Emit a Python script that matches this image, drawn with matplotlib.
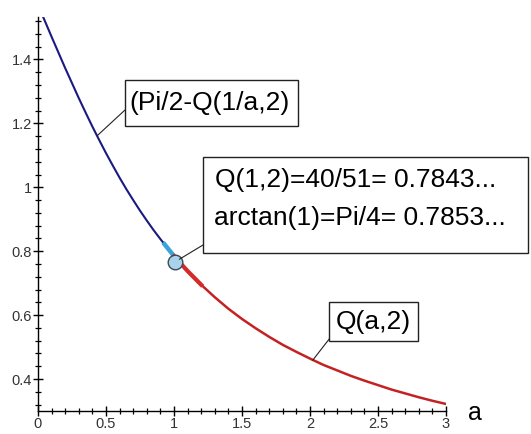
import matplotlib
matplotlib.use("Agg")
import matplotlib.pyplot as plt
from matplotlib.patches import Rectangle
from matplotlib.ticker import MultipleLocator

# values
blue_a = [0.0, 0.05, 0.1, 0.15, 0.2, 0.25, 0.3, 0.35, 0.4, 0.45, 0.5, 0.55, 0.6,
          0.65, 0.7, 0.75, 0.8, 0.85, 0.9, 0.93, 0.96, 1.0]
blue_v = [1.571, 1.521, 1.471, 1.422, 1.373, 1.326, 1.279, 1.234, 1.190, 1.148,
          1.107, 1.068, 1.030, 0.994, 0.960, 0.927, 0.896, 0.866, 0.838, 0.822,
          0.806, 0.785]
red_a = [1.0, 1.1, 1.2, 1.3, 1.4, 1.5, 1.6, 1.7, 1.8, 1.9, 2.0, 2.1, 2.2, 2.3,
         2.4, 2.5, 2.6, 2.7, 2.8, 2.9, 3.0]
red_v = [0.784, 0.738, 0.695, 0.656, 0.620, 0.588, 0.559, 0.532, 0.507, 0.485,
         0.464, 0.444, 0.427, 0.410, 0.395, 0.381, 0.367, 0.355, 0.343, 0.332,
         0.322]
point_a, point_v = 1.01, 0.765

label_blue = "(Pi/2-Q(1/a,2)"
label_red = "Q(a,2)"
label_point = ["Q(1,2)=40/51= 0.7843...", "arctan(1)=Pi/4= 0.7853..."]

W, H = 531, 434
plt.rcParams["font.family"] = ["Liberation Sans", "DejaVu Sans"]
fig = plt.figure(figsize=(W / 100, H / 100), dpi=100)
ax = fig.add_axes([38 / W, 1 - 411 / H, (446 - 38) / W, (411 - 17) / H])

ax.plot(blue_a, blue_v, color="#1a1a80", lw=1.5, solid_capstyle="butt", zorder=3)
ax.plot(red_a, red_v, color="#c42222", lw=1.8, zorder=3)
ax.plot(blue_a[-3:], blue_v[-3:], color="#3aa3dc", lw=3.2, zorder=4)
ax.plot(red_a[:3], red_v[:3], color="#d42a2a", lw=3.0, zorder=4)
ax.plot([point_a], [point_v], "o", ms=10.5, mfc="#a9d3ea", mec="#3b4a55", mew=1.0, zorder=5)

ax.set_xlim(0, 3)
ax.set_ylim(0.30, 1.533)
ax.xaxis.set_major_locator(MultipleLocator(0.5))
ax.xaxis.set_minor_locator(MultipleLocator(0.1))
ax.yaxis.set_major_locator(MultipleLocator(0.2))
ax.yaxis.set_minor_locator(MultipleLocator(0.04))
ax.set_xticks([0, 0.5, 1, 1.5, 2, 2.5, 3], ["0", "0.5", "1", "1.5", "2", "2.5", "3"])
ax.set_yticks([0.4, 0.6, 0.8, 1.0, 1.2, 1.4], ["0.4", "0.6", "0.8", "1", "1.2", "1.4"])
for s in ["top", "right"]:
    ax.spines[s].set_visible(False)
for s in ["left", "bottom"]:
    ax.spines[s].set_linewidth(1.0)
ax.tick_params(which="major", direction="inout", length=7, width=1.0,
               labelsize=10.5, labelcolor="#333333", pad=1)
ax.tick_params(which="minor", direction="inout", length=5, width=0.9)
ax.patch.set_alpha(0)

fig.text(475 / W, 1 - 413 / H, "a", fontsize=18, ha="center", va="center")


def box(x0, y0, x1, y1):
    fig.patches.append(Rectangle((x0 / W, 1 - y1 / H), (x1 - x0) / W, (y1 - y0) / H,
                                 transform=fig.transFigure, fill=True, fc="white",
                                 ec="#222222", lw=1.0, zorder=6))


def leader(xy, px, py):
    ax.annotate("", xy=xy, xycoords="data", xytext=(px, H - py),
                textcoords="figure pixels",
                arrowprops=dict(arrowstyle="-", lw=0.8, color="#222222",
                                shrinkA=0, shrinkB=0), zorder=6)


box(125, 80, 298, 126)
fig.text(129 / W, 1 - 103 / H, label_blue, fontsize=19, va="center", ha="left", zorder=7)
leader((0.434, 1.161), 125, 110)

box(203, 157, 528, 253)
fig.text(215 / W, 1 - 180 / H, label_point[0], fontsize=19, va="center", ha="left", zorder=7)
fig.text(214 / W, 1 - 218 / H, label_point[1], fontsize=19, va="center", ha="left", zorder=7)
leader((1.04, 0.775), 203, 245)

box(329, 302, 418, 341)
fig.text(373 / W, 1 - 322 / H, label_red, fontsize=19, va="center", ha="center", zorder=7)
leader((2.02, 0.459), 330, 338)

fig.savefig("out.png", dpi=100)
